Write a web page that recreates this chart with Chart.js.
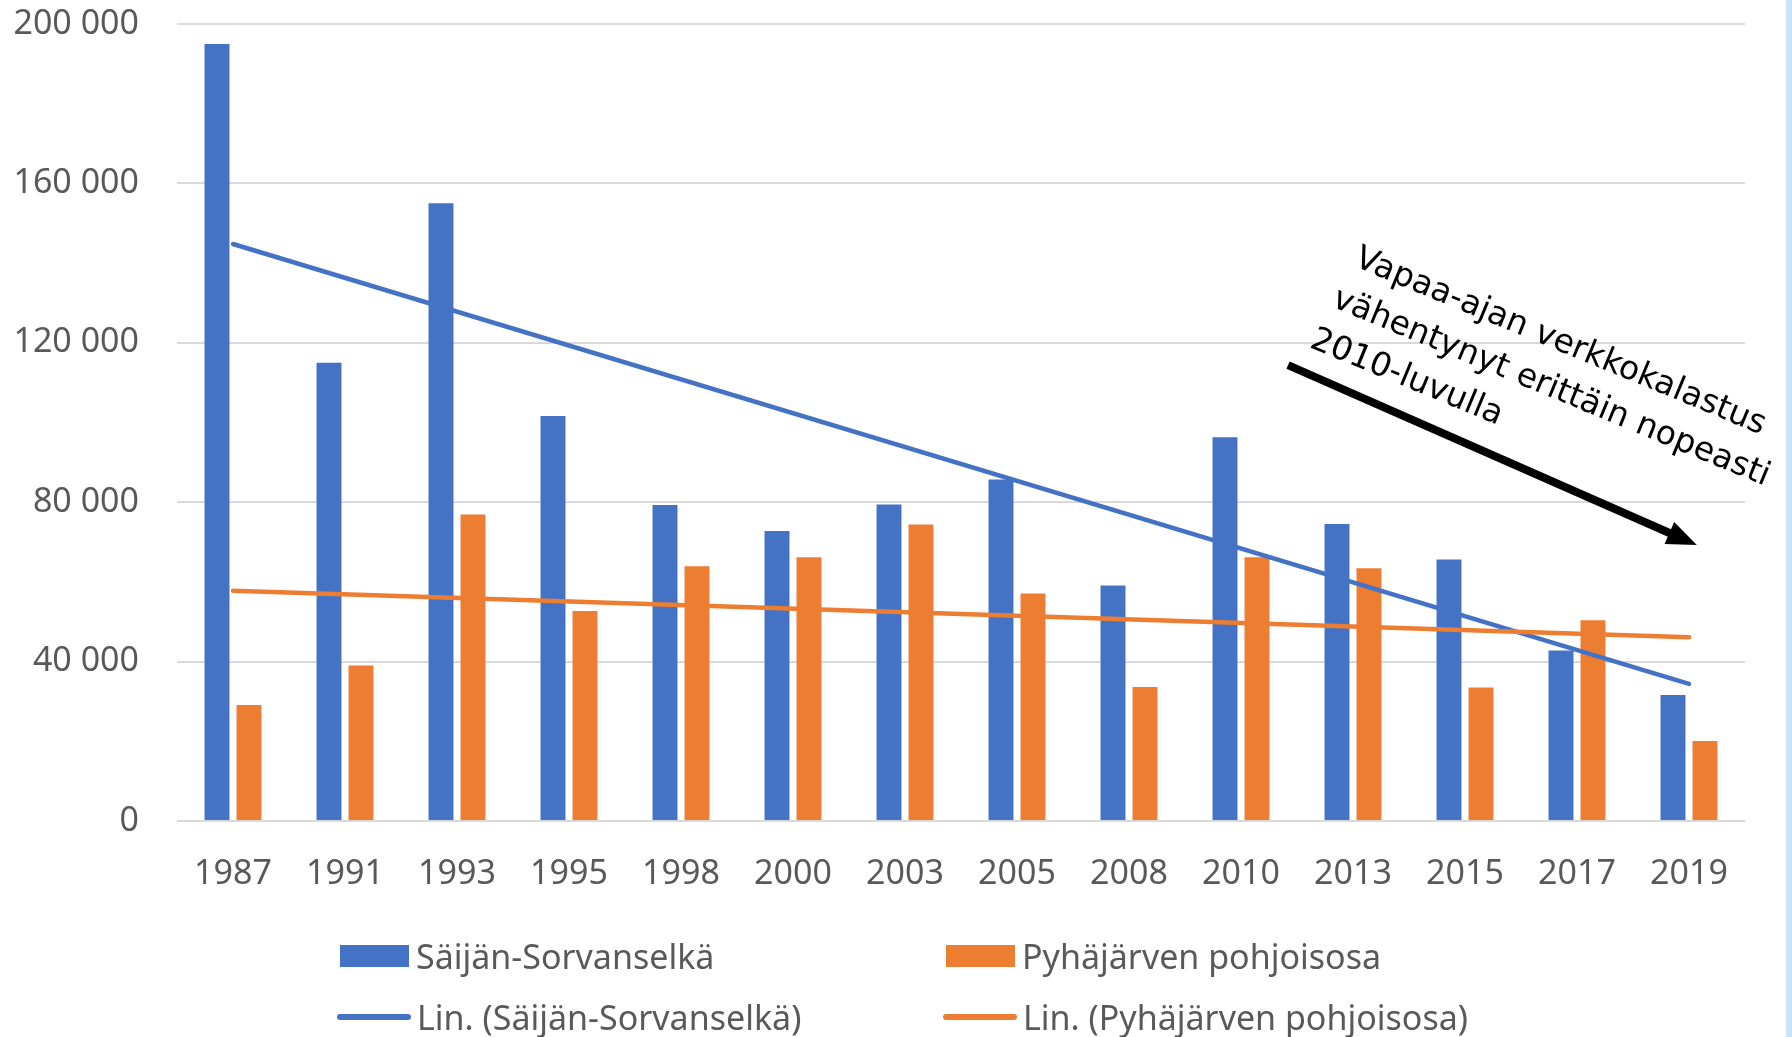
<!DOCTYPE html>
<html>
<head>
<meta charset="utf-8">
<script src="https://cdn.jsdelivr.net/npm/chart.js@4.4.1/dist/chart.umd.min.js"></script>
<style>
  html, body { margin: 0; padding: 0; background: #fff; }
  #wrap { position: relative; width: 1792px; height: 1037px; overflow: hidden; }
  #strip { position: absolute; left: 1786px; top: 0; width: 6px; height: 1037px; background: #cbe2f7; }
  #legend {
    position: absolute; left: 337px; top: 925px;
    display: grid; grid-template-columns: 606px auto; grid-auto-rows: 61px;
    font-family: 'Noto Sans', sans-serif; font-size: 34px; color: #595959;
  }
  .item { display: flex; align-items: center; white-space: nowrap; }
  .box { width: 69px; height: 22px; margin-left: 3px; margin-right: 7px; }
  .line { width: 74px; height: 6px; border-radius: 3px; margin-right: 6px; }
</style>
</head>
<body>
<div id="wrap">
  <canvas id="chart"></canvas>
  <div id="legend"></div>
  <div id="strip"></div>
</div>
<script>
const years = ['1987', '1991', '1993', '1995', '1998', '2000', '2003', '2005', '2008', '2010', '2013', '2015', '2017', '2019'];
const saijanSorvanselka = [195000, 115000, 155000, 101600, 79300, 72800, 79400, 85700, 59100, 96300, 74500, 65600, 42800, 31600];
const pyhajarvenPohjoisosa = [29100, 39000, 76900, 52700, 63900, 66200, 74400, 57100, 33600, 66200, 63400, 33500, 50400, 20100];
// trendline end points
const trendSaijan = [144800, null, null, null, null, null, null, null, null, null, null, null, null, 34400];
const trendPyhajarvi = [57800, null, null, null, null, null, null, null, null, null, null, null, null, 46100];
const yTicks = [0, 40000, 80000, 120000, 160000, 200000];

const noteLines = ['Vapaa-ajan verkkokalastus', 'vähentynyt erittäin nopeasti', '2010-luvulla'];
const noteAnchor = [10.0, 139400];   // [category index, value]
const arrowFrom = [9.42, 114400];
const arrowTo = [13.07, 69250];

const blue = '#4472C4';
const orange = '#ED7D31';
const labelColor = '#595959';
const tickFont = { family: "'Noto Sans', sans-serif", size: 34 };

const notePlugin = {
  id: 'note',
  afterDatasetsDraw(chart) {
    const { ctx, scales: { x, y } } = chart;
    const x1 = x.getPixelForValue(arrowFrom[0]), y1 = y.getPixelForValue(arrowFrom[1]);
    const x2 = x.getPixelForValue(arrowTo[0]), y2 = y.getPixelForValue(arrowTo[1]);
    const a = Math.atan2(y2 - y1, x2 - x1);
    const head = 30, half = 12;
    ctx.save();
    ctx.strokeStyle = '#000';
    ctx.fillStyle = '#000';
    ctx.lineWidth = 8;
    ctx.beginPath();
    ctx.moveTo(x1, y1);
    ctx.lineTo(x2 - Math.cos(a) * (head - 2), y2 - Math.sin(a) * (head - 2));
    ctx.stroke();
    ctx.beginPath();
    ctx.moveTo(x2, y2);
    ctx.lineTo(x2 - Math.cos(a) * head - Math.sin(a) * half, y2 - Math.sin(a) * head + Math.cos(a) * half);
    ctx.lineTo(x2 - Math.cos(a) * head + Math.sin(a) * half, y2 - Math.sin(a) * head - Math.cos(a) * half);
    ctx.closePath();
    ctx.fill();

    const tx = x.getPixelForValue(noteAnchor[0]), ty = y.getPixelForValue(noteAnchor[1]);
    ctx.translate(tx, ty);
    ctx.rotate(22.5 * Math.PI / 180);
    ctx.font = "33px 'DejaVu Sans', sans-serif";
    ctx.textBaseline = 'alphabetic';
    ctx.textAlign = 'left';
    noteLines.forEach((t, i) => ctx.fillText(t, -5 * i, i * 46));
    ctx.restore();
  }
};

const chart = new Chart(document.getElementById('chart'), {
  type: 'bar',
  data: {
    labels: years,
    datasets: [
      { type: 'line', label: 'Lin. (Pyhäjärven pohjoisosa)', data: trendPyhajarvi, borderColor: orange, backgroundColor: orange,
        borderWidth: 4.5, borderCapStyle: 'round', pointRadius: 0, spanGaps: true, order: 1 },
      { type: 'line', label: 'Lin. (Säijän-Sorvanselkä)', data: trendSaijan, borderColor: blue, backgroundColor: blue,
        borderWidth: 4.5, borderCapStyle: 'round', pointRadius: 0, spanGaps: true, order: 2 },
      { label: 'Säijän-Sorvanselkä', data: saijanSorvanselka, backgroundColor: blue, order: 3,
        categoryPercentage: 0.571, barPercentage: 0.78 },
      { label: 'Pyhäjärven pohjoisosa', data: pyhajarvenPohjoisosa, backgroundColor: orange, order: 3,
        categoryPercentage: 0.571, barPercentage: 0.78 }
    ]
  },
  options: {
    responsive: true,
    maintainAspectRatio: false,
    animation: false,
    layout: { padding: { left: 0, right: 47, top: 24, bottom: 0 } },
    plugins: { legend: { display: false }, tooltip: { enabled: false } },
    scales: {
      x: {
        grid: { display: false },
        border: { display: false },
        ticks: { color: labelColor, font: tickFont, padding: 25, maxRotation: 0, autoSkip: false },
        afterFit(scale) { scale.height = 216; }
      },
      y: {
        min: 0,
        max: 200000,
        afterBuildTicks(scale) { scale.ticks = yTicks.map(v => ({ value: v })); },
        grid: { color: '#d9d9d9', lineWidth: 2, drawTicks: false },
        border: { display: false },
        ticks: {
          color: labelColor, font: tickFont, padding: 38,
          callback: v => String(v).replace(/\B(?=(\d{3})+(?!\d))/g, ' ')
        },
        afterFit(scale) {
          scale.width = 177;
          scale.paddingTop = 0;
          scale.paddingBottom = 0;
        }
      }
    }
  },
  plugins: [notePlugin]
});

// legend: bars on the first row, trendlines on the second
const legendEl = document.getElementById('legend');
const legendOrder = [2, 3, 1, 0];
legendOrder.forEach(i => {
  const ds = chart.data.datasets[i];
  const item = document.createElement('div');
  item.className = 'item';
  const sym = document.createElement('span');
  sym.className = ds.type === 'line' ? 'line' : 'box';
  sym.style.background = ds.type === 'line' ? ds.borderColor : ds.backgroundColor;
  const txt = document.createElement('span');
  txt.textContent = ds.label;
  item.appendChild(sym);
  item.appendChild(txt);
  legendEl.appendChild(item);
});
</script>
</body>
</html>
